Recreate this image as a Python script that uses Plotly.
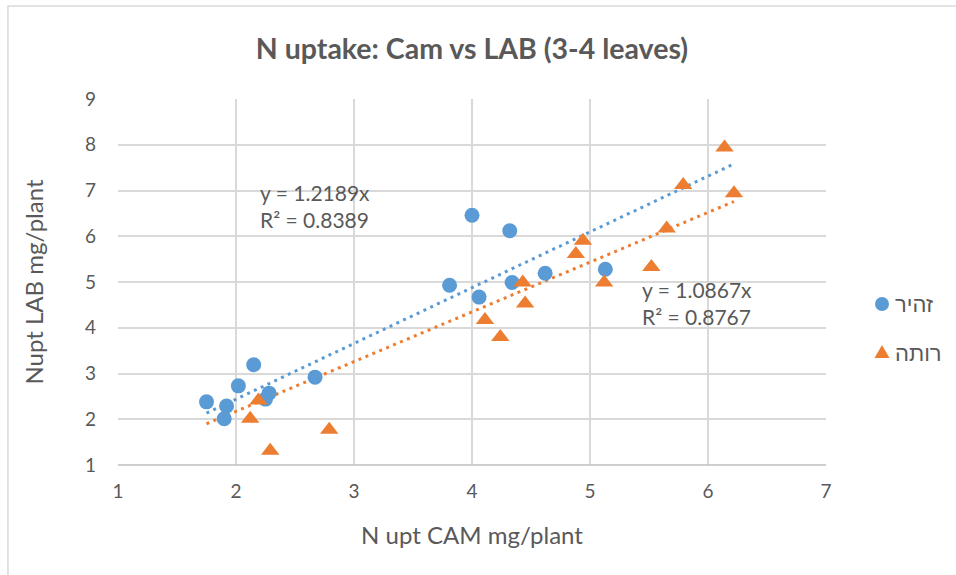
import plotly.graph_objects as go

BLUE = "#5B9BD5"
ORANGE = "#ED7D31"
GRID = "#D9D9D9"
TEXT = "#595959"
FONT = "Lato, 'Liberation Sans', 'DejaVu Sans', sans-serif"

# series values
zahir_x = [1.75, 1.92, 1.90, 2.02, 2.15, 2.28, 2.25, 2.67, 3.81, 4.00, 4.06, 4.32, 4.34, 4.62, 5.13]
zahir_y = [2.38, 2.29, 2.01, 2.73, 3.19, 2.57, 2.44, 2.92, 4.93, 6.46, 4.67, 6.12, 4.99, 5.19, 5.28]

rota_x = [2.19, 2.12, 2.29, 2.79, 4.11, 4.24, 4.43, 4.45, 4.88, 4.94, 5.12, 5.52, 5.65, 5.79, 6.14, 6.22]
rota_y = [2.41, 2.01, 1.31, 1.77, 4.17, 3.80, 4.99, 4.53, 5.61, 5.90, 4.99, 5.33, 6.17, 7.12, 7.94, 6.94]

# linear trendlines through the origin
zahir_slope, zahir_r2 = 1.2189, 0.8389
rota_slope, rota_r2 = 1.0867, 0.8767
trend_x = [1.75, 6.22]

x_ticks = [1, 2, 3, 4, 5, 6, 7]
y_ticks = [1, 2, 3, 4, 5, 6, 7, 8, 9]

fig = go.Figure()

fig.add_trace(go.Scatter(
    x=trend_x, y=[zahir_slope * v for v in trend_x], mode="lines",
    line=dict(color=BLUE, width=3, dash="3px,4.5px"), hoverinfo="skip",
))
fig.add_trace(go.Scatter(
    x=trend_x, y=[rota_slope * v for v in trend_x], mode="lines",
    line=dict(color=ORANGE, width=3, dash="3px,4.5px"), hoverinfo="skip",
))
fig.add_trace(go.Scatter(
    x=zahir_x, y=zahir_y, mode="markers", name="זהיר",
    marker=dict(symbol="circle", size=15, color=BLUE),
))
fig.add_trace(go.Scatter(
    x=rota_x, y=rota_y, mode="markers", name="רותה",
    marker=dict(symbol="triangle-up", size=16, color=ORANGE),
))

# trendline equations
eq_font = dict(size=21, color=TEXT, family=FONT)
fig.add_annotation(x=2.186, y=6.66, xanchor="left", yanchor="middle", align="left",
                   text=f"y = {zahir_slope}x<br>R² = {zahir_r2}", showarrow=False, font=eq_font)
fig.add_annotation(x=5.424, y=4.55, xanchor="left", yanchor="middle", align="left",
                   text=f"y = {rota_slope}x<br>R² = {rota_r2}", showarrow=False, font=eq_font)

# legend drawn by hand: symbol then Hebrew label
leg_font = dict(size=22, color=TEXT, family=FONT)
fig.add_annotation(xref="paper", yref="paper", x=1.0945, y=0.4399, xanchor="left", yanchor="middle",
                   text="זהיר", showarrow=False, font=leg_font)
fig.add_annotation(xref="paper", yref="paper", x=1.0945, y=0.3087, xanchor="left", yanchor="middle",
                   text="רותה", showarrow=False, font=leg_font)
fig.add_shape(type="circle", xref="paper", yref="paper", xsizemode="pixel", ysizemode="pixel",
              xanchor=1.0791, yanchor=0.4399, x0=-7, x1=7, y0=-7, y1=7,
              fillcolor=BLUE, line=dict(width=0))
fig.add_shape(type="path", xref="paper", yref="paper", xsizemode="pixel", ysizemode="pixel",
              xanchor=1.0791, yanchor=0.3087, path="M -7.5,-6 L 7.5,-6 L 0,7 Z",
              fillcolor=ORANGE, line=dict(width=0))

# chart area border
fig.add_shape(type="rect", xref="paper", yref="paper", x0=-0.1554, x1=1.2, y0=-0.33, y1=1.254,
              line=dict(color=GRID, width=1.5), layer="below")

axis = dict(showgrid=True, gridcolor=GRID, gridwidth=1.5, zeroline=False, showline=False,
            ticks="", tickfont=dict(size=19, color=TEXT, family=FONT))
title_font = dict(size=24, color=TEXT, family=FONT)

fig.update_layout(
    width=956, height=575,
    paper_bgcolor="white", plot_bgcolor="white",
    margin=dict(l=118, r=130, t=99, b=110),
    showlegend=False,
    font=dict(family=FONT, color=TEXT),
    title=dict(text="<b>N uptake: Cam vs LAB (3-4 leaves)</b>", x=0.5, xref="paper", y=0.915, yanchor="middle",
               font=dict(size=28.5, color=TEXT, family=FONT)),
    xaxis=dict(range=[1, 7], tickvals=x_ticks, ticklabelstandoff=13,
               title=dict(text="N upt CAM mg/plant", font=title_font, standoff=26), **axis),
    yaxis=dict(range=[1, 9], tickvals=y_ticks, ticklabelstandoff=21,
               title=dict(text="Nupt LAB mg/plant", font=title_font, standoff=34), **axis),
)
fig.add_shape(type="line", xref="paper", yref="paper", x0=0, x1=1, y0=0, y1=0,
              line=dict(color="#BFBFBF", width=1.5))

fig.write_html("out.html", config={"displayModeBar": False},
               post_script="document.body.style.margin='0';")
